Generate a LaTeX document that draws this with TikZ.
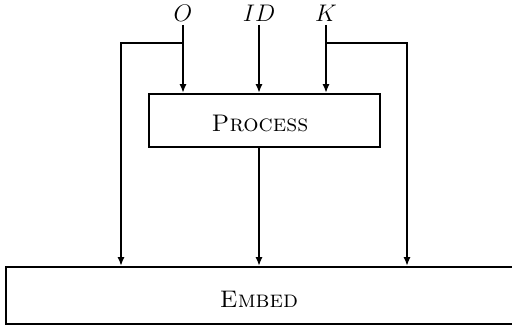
\documentclass[tikz,border=0pt]{standalone}
\usetikzlibrary{arrows.meta}
\begin{document}
\begin{tikzpicture}[x=0.5pt,y=-0.5pt,
  conn/.style={line width=0.9pt,-{Latex[length=4.4pt,width=3.6pt]}},
  blk/.style={draw,line width=1.1pt,rectangle,inner sep=0pt},
  lbl/.style={inner sep=0pt,font=\fontsize{12}{14}\selectfont},
  txt/.style={inner sep=0pt,font=\fontsize{12}{14}\selectfont}]
\useasboundingbox (0,0) rectangle (512,331);
\node[lbl] (O) at (183,13) {$O$};
\node[lbl] (ID) at (259,13) {$ID$};
\node[lbl] (K) at (326,13) {$K$};
\node[blk,minimum width=115.5pt,minimum height=26.5pt] (P) at (264.5,120.5) {};
\node[txt] (Pt) at (260,123) {\textsc{Process}};
\node[blk,minimum width=254pt,minimum height=28.5pt] (E) at (260,295.5) {};
\node[txt] (Et) at (259,299) {\textsc{Embed}};
\coordinate (o1) at (183,25);
\coordinate (i1) at (259,25);
\coordinate (k1) at (326,25);
\coordinate (o2) at (183,43);
\coordinate (k2) at (326,43);
\coordinate (ol) at (121,43);
\coordinate (kr) at (407,43);
\draw[conn] (o1) -- (o1 |- P.north);
\draw[conn] (i1) -- (i1 |- P.north);
\draw[conn,line width=1.2pt] (k1) -- (k1 |- P.north);
\draw[conn] (o2) -- (ol) -- (ol |- E.north);
\draw[conn] (k2) -- (kr) -- (kr |- E.north);
\draw[conn] (P.south -| i1) -- (i1 |- E.north);
\end{tikzpicture}
\end{document}
